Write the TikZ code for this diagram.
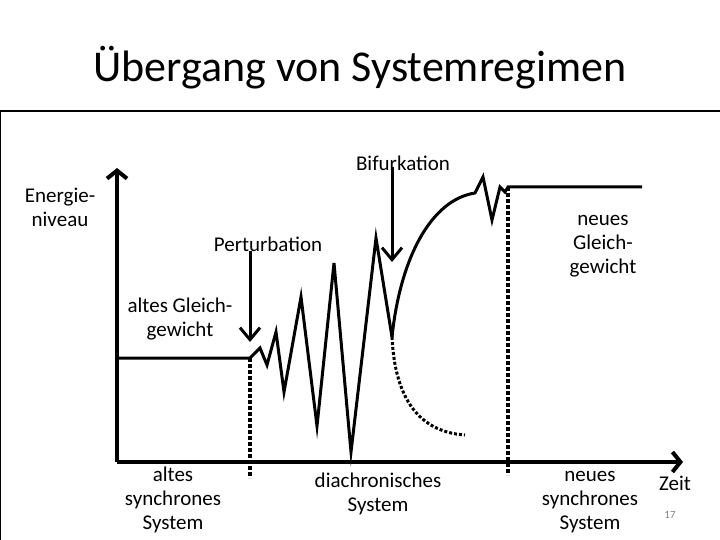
\documentclass[tikz,border=0pt]{standalone}
\usepackage{fontspec}
\setmainfont{Carlito}
\usetikzlibrary{arrows.meta}
\tikzstyle{txt} = [align=center, inner sep=0pt, font=\fontsize{21}{24}\selectfont]
\tikzstyle{axis} = [line width=4pt, -{Straight Barb[length=8pt,width=20pt]}]
\tikzstyle{marker} = [line width=3pt, -{Straight Barb[length=12pt,width=20pt]}]
\tikzstyle{curve} = [line width=3pt]
\tikzstyle{border} = [line width=3.5pt, dash pattern=on 4pt off 2pt]

\begin{document}
\begin{tikzpicture}[x=1pt, y=-1pt]
        \useasboundingbox (0,0) rectangle (720,540);

        % slide frame
        \draw [line width=1.3pt] (0,111) -- (720,111);
        \draw [line width=1.3pt] (0.7,111) -- (0.7,540);

        \node (titel) [font=\fontsize{44}{50}\selectfont] at (360,68) {Übergang von Systemregimen};

        % axes
        \coordinate (ursprung) at (117,462);
        \coordinate (yende) at (117,168);
        \coordinate (xende) at (683,462);
        \draw [axis] (ursprung) -- (yende);
        \draw [axis] (ursprung) -- (xende);

        \node (energie) [txt] at (60,207) {Energie-\\niveau};
        \node (zeit) [txt] at (675,483) {Zeit};

        % system borders
        \coordinate (alt) at (250,358);
        \coordinate (neu) at (508,187);
        \draw [border] (alt) -- (250,478);
        \draw [border] (neu) -- (508,475);

        % old equilibrium, oscillation, new equilibrium
        \coordinate (gabel) at (392,337);
        \coordinate (ast) at (475,193);
        \draw [curve] (ursprung |- alt) -- (alt) -- (260,348) -- (267,365) -- (276,332)
              -- (284,392) -- (301,297) -- (317,426) -- (334,263) -- (351,452)
              -- (376,238) -- (gabel);
        \draw [curve] (gabel) .. controls (400,260) and (430,200) .. (ast)
              -- (483,177) -- (492,220) -- (500,187) -- (505,192) -- (neu) -- (642,187);
        \draw [curve, dash pattern=on 3pt off 2pt] (gabel) .. controls (395,400) and (420,432) .. (465,435);

        % events
        \node (perturb) [txt] at (268,244) {Perturbation};
        \node (bifurk) [txt] at (403,163) {Bifurkation};
        \coordinate (ptip) at (250,342);
        \coordinate (btip) at (392,262);
        \draw [marker] ([yshift=1pt]perturb.south -| ptip) -- (ptip);
        \draw [marker] ([yshift=4pt]bifurk.south -| btip) -- (btip);

        \node (altgg) [txt] at (180,319) {altes Gleich-\\gewicht};
        \node (neugg) [txt] at (603,246) {neues\\Gleich-\\gewicht};

        \node (altsys) [txt] at (173,500) {altes\\synchrones\\System};
        \node (diasys) [txt] at (378,494) {diachronisches\\System};
        \node (neusys) [txt] at (590,502) {neues\\synchrones\\System};

        \node (seite) [font=\fontsize{11}{13}\selectfont, text=gray] at (670,515) {17};

    \end{tikzpicture}
\end{document}
